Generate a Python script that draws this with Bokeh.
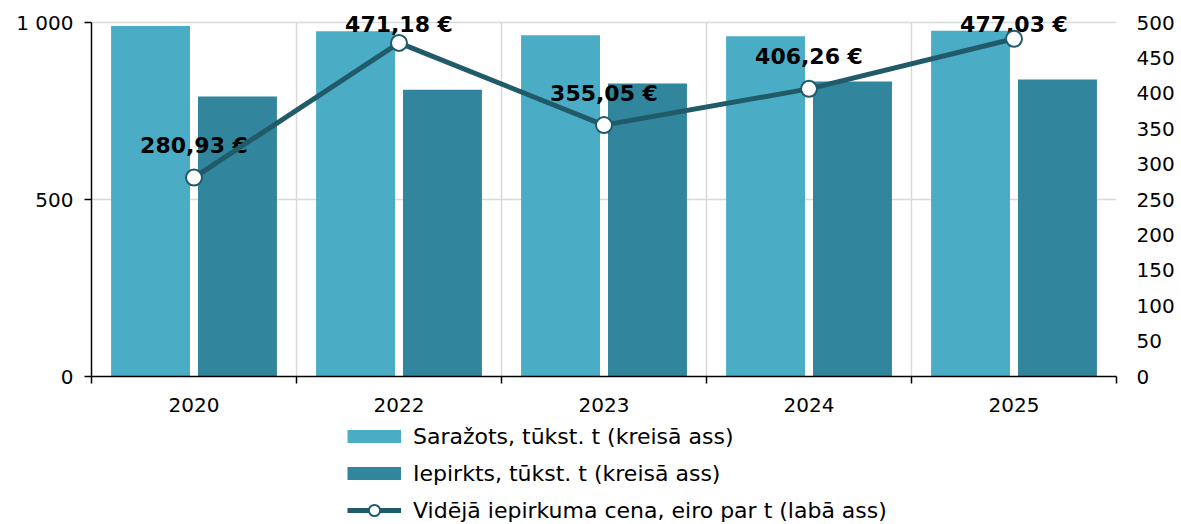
from bokeh.plotting import figure
from bokeh.layouts import column
from bokeh.models import (Range1d, LinearAxis, FixedTicker, Legend, LegendItem,
                          ColumnDataSource)
from bokeh.transform import dodge
from bokeh.core.properties import value
from bokeh.embed import file_html
from bokeh.resources import INLINE

years = ["2020", "2022", "2023", "2024", "2025"]
produced = [990, 975, 964, 961, 977]          # Saražots, tūkst. t
purchased = [791, 810, 828, 833, 839]         # Iepirkts, tūkst. t
price = [280.93, 471.18, 355.05, 406.26, 477.03]  # eiro par t

left_ticks = [0, 500, 1000]
right_ticks = list(range(0, 501, 50))
LEFT_MAX, RIGHT_MAX = 1000, 500

FONT = "DejaVu Sans"
C_PROD = "#4BACC6"
C_PURCH = "#31859C"
C_LINE = "#215B6A"
GRID = "#D9D9D9"

W_FIG = 1181
H_MAIN = 420
H_LEG = 104
TOP = 8            # frame top (headroom for labels)
AXIS_TOP = 22      # pixel where the axis maximum sits
AXIS_BOTTOM = 376  # pixel where zero sits
LEFT = 91
FRAME_W = 1025

FRAME_H = AXIS_BOTTOM - TOP
SCALE_H = AXIS_BOTTOM - AXIS_TOP
head = FRAME_H / SCALE_H

xs = list(range(len(years)))
labels = [f"{v:.2f}".replace(".", ",") + " €" for v in price]
offsets = []
for v in price:
    dist = (RIGHT_MAX - v) / RIGHT_MAX * SCALE_H
    offsets.append(-min(32.0, dist - 2.0))

src = ColumnDataSource(dict(x=xs, produced=produced, purchased=purchased,
                            price=price, lab=labels, yoff=offsets))

p = figure(width=W_FIG, height=H_MAIN, output_backend="svg", toolbar_location=None,
           x_range=Range1d(-0.5, len(years) - 0.5),
           y_range=Range1d(0, LEFT_MAX * head),
           min_border_left=LEFT, min_border_right=W_FIG - LEFT - FRAME_W,
           min_border_top=TOP, min_border_bottom=H_MAIN - TOP - FRAME_H)
p.outline_line_color = None
p.extra_y_ranges = {"price": Range1d(0, RIGHT_MAX * head)}

# grids
p.ygrid.ticker = FixedTicker(ticks=left_ticks)
p.ygrid.grid_line_color = GRID
p.ygrid.grid_line_width = 1.5
p.xgrid.grid_line_color = None
p.xgrid.minor_grid_line_color = GRID
p.xgrid.minor_grid_line_width = 1.5
p.xgrid.cross_bounds = (0, LEFT_MAX)

# x axis: labels at centers, ticks at boundaries (minor)
xa = p.xaxis[0]
xa.ticker = FixedTicker(ticks=xs, minor_ticks=[i - 0.5 for i in range(len(years) + 1)])
xa.major_label_overrides = {i: y for i, y in enumerate(years)}
xa.major_tick_out = 0
xa.major_tick_in = 0
xa.minor_tick_out = 7
xa.minor_tick_in = 0
xa.minor_tick_line_color = "black"
xa.minor_tick_line_width = 1.5
xa.axis_line_color = "black"
xa.axis_line_width = 1.5
xa.major_label_standoff = 14
xa.major_label_text_font = FONT
xa.major_label_text_font_size = "20px"
xa.major_label_text_color = "black"
p.xgrid.ticker = xa.ticker

ya = p.yaxis[0]
ya.ticker = FixedTicker(ticks=left_ticks)
ya.bounds = (0, LEFT_MAX)
ya.major_label_overrides = {1000: "1 000"}
ya.minor_tick_line_color = None
ya.major_tick_out = 7
ya.major_tick_in = 0
ya.major_tick_line_width = 1.5
ya.axis_line_width = 1.5
ya.axis_line_color = "black"
ya.major_tick_line_color = "black"
ya.major_label_standoff = 11
ya.major_label_text_font = FONT
ya.major_label_text_font_size = "20px"
ya.major_label_text_color = "black"

ra = LinearAxis(y_range_name="price", ticker=FixedTicker(ticks=right_ticks),
                bounds=(0, RIGHT_MAX))
ra.axis_line_color = None
ra.major_tick_line_color = None
ra.minor_tick_line_color = None
ra.major_tick_out = 0
ra.major_tick_in = 0
ra.major_label_standoff = 20
ra.major_label_text_font = FONT
ra.major_label_text_font_size = "20px"
ra.major_label_text_color = "black"
p.add_layout(ra, "right")

W = 0.385
bar1 = dict(fill_color=C_PROD, line_color=None)
bar2 = dict(fill_color=C_PURCH, line_color=None)
line_st = dict(line_color=C_LINE, line_width=5)
mark_st = dict(size=16, fill_color="white", line_color=C_LINE, line_width=2)

p.vbar(x=dodge("x", -0.212, range=p.x_range), top="produced", width=W,
       source=src, **bar1)
p.vbar(x=dodge("x", 0.212, range=p.x_range), top="purchased", width=W,
       source=src, **bar2)

p.text(x="x", y="price", text="lab", y_range_name="price", source=src,
       y_offset="yoff", text_align="center", text_baseline="middle",
       text_font=value(FONT), text_font_style="bold", text_font_size="22px",
       text_color="black")

p.line(x="x", y="price", y_range_name="price", source=src, **line_st)
p.scatter(x="x", y="price", y_range_name="price", source=src, **mark_st)

# legend panel (separate figure below the chart)
q = figure(width=W_FIG, height=H_LEG, output_backend="svg", toolbar_location=None,
           x_range=Range1d(0, 1), y_range=Range1d(0, 1),
           min_border_left=0, min_border_right=0, min_border_top=0,
           min_border_bottom=0)
q.axis.visible = False
q.grid.visible = False
q.outline_line_color = None
l1 = q.line(x="x", y="produced", source=src, visible=False,
            line_color=C_PROD, line_width=13)
l2 = q.line(x="x", y="purchased", source=src, visible=False,
            line_color=C_PURCH, line_width=13)
l3 = q.line(x="x", y="price", source=src, visible=False, **line_st)
l4 = q.scatter(x="x", y="price", source=src, visible=False,
               fill_color="white", line_color=C_LINE, line_width=2)

legend = Legend(items=[
    LegendItem(label="Saražots, tūkst. t (kreisā ass)", renderers=[l1]),
    LegendItem(label="Iepirkts, tūkst. t (kreisā ass)", renderers=[l2]),
    LegendItem(label="Vidējā iepirkuma cena, eiro par t (labā ass)", renderers=[l3, l4]),
], orientation="vertical", location=(256, 0))
legend.label_text_font = FONT
legend.label_text_font_size = "22px"
legend.label_text_color = "black"
legend.glyph_width = 54
legend.glyph_height = 28
legend.label_height = 24
legend.label_standoff = 12
legend.spacing = 9
legend.padding = 0
legend.margin = 0
legend.border_line_color = None
legend.background_fill_alpha = 0
legend.click_policy = "none"
q.add_layout(legend, "center")

layout = column(p, q, spacing=0)
open("out.html", "w").write(file_html(layout, INLINE))
